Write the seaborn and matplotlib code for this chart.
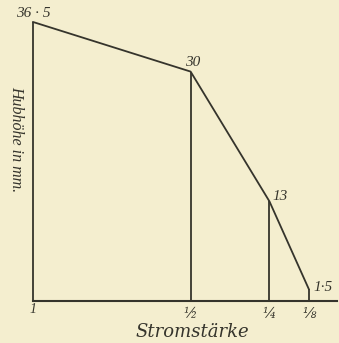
import matplotlib
matplotlib.use("Agg")
import matplotlib.pyplot as plt
import seaborn as sns
import pandas as pd

# data
current = [1, 1/2, 1/4, 1/8]
current_labels = ["1", "½", "¼", "⅛"]
lift_mm = [36.5, 30, 13, 1.5]
lift_labels = ["36 · 5", "30", "13", "1·5"]

paper = "#f4eecf"
ink = "#35342c"
serif = ["Liberation Serif", "DejaVu Serif"]

sns.set_style("white")
plt.rcParams["font.family"] = serif

df = pd.DataFrame({"strom": current, "hub": lift_mm})

fig = plt.figure(figsize=(3.39, 3.43), dpi=100, facecolor=paper)
ax = fig.add_axes([0.097, 0.1233, 0.897, 0.835])
ax.set_facecolor(paper)

sns.lineplot(data=df, x="strom", y="hub", color=ink, linewidth=1.3, ax=ax,
             sort=False, clip_on=False)
ax.vlines(current, 0, lift_mm, color=ink, linewidth=1.3, clip_on=False)

ax.set_xlim(1, 0.036)
ax.set_ylim(0, 37.5)
for s in ["top", "right", "left"]:
    ax.spines[s].set_visible(False)
ax.spines["bottom"].set_color(ink)
ax.spines["bottom"].set_linewidth(1.5)
ax.set_xticks([])
ax.set_yticks([])
ax.set_xlabel("")
ax.set_ylabel("")

# value labels next to the corners (offsets in points)
offsets = [(0, 1.5, "center", "bottom"), (1.5, 2, "center", "bottom"),
           (2.5, -1, "left", "bottom"), (3, 1.5, "left", "center")]
for x, y, lab, (dx, dy, ha, va) in zip(current, lift_mm, lift_labels, offsets):
    ax.annotate(lab, (x, y), xytext=(dx, dy), textcoords="offset points",
                ha=ha, va=va, fontsize=11, style="italic", color=ink)

# "1" in the book face, the fractions from DejaVu (larger glyphs)
tick_dy = [-6.5, -9.5, -9.5, -9.5]
tick_font = [serif, ["DejaVu Serif"], ["DejaVu Serif"], ["DejaVu Serif"]]
for x, lab, dy, fam in zip(current, current_labels, tick_dy, tick_font):
    ax.annotate(lab, (x, 0), xytext=(0, dy), textcoords="offset points",
                ha="center", va="center", fontsize=10, style="italic",
                color=ink, family=fam)

fig.text(0.567, 0.032, "Stromstärke", ha="center", va="center",
         fontsize=13, style="italic", color=ink, family=["DejaVu Serif"])
fig.text(0.047, 0.595, "Hubhöhe in mm.", ha="center", va="center", rotation=270,
         fontsize=11.5, style="italic", color=ink)

fig.savefig("out.png", dpi=100, facecolor=paper)
